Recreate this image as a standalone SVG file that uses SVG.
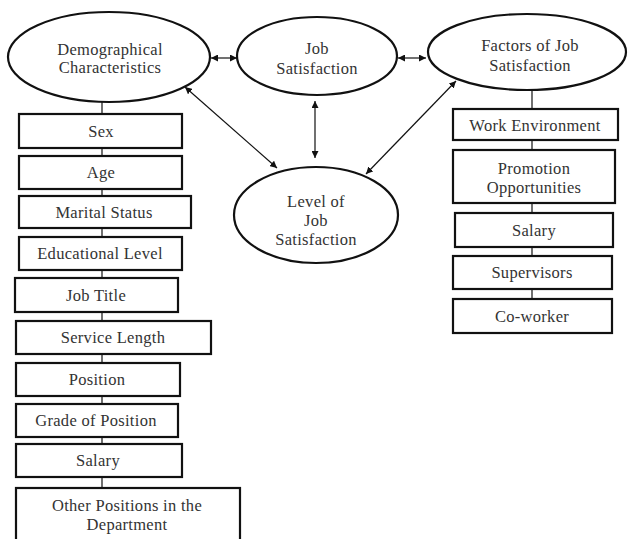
<svg xmlns="http://www.w3.org/2000/svg" width="630" height="539" viewBox="0 0 630 539">
<style>
.e{fill:#fff;stroke:#111;stroke-width:2.2}
.b{fill:#fff;stroke:#111;stroke-width:2.2}
.t{font-family:"Liberation Serif","Times New Roman",serif;font-size:16.5px;fill:#333;text-anchor:middle;dominant-baseline:central;letter-spacing:0.3px}
.c{stroke:#111;stroke-width:1.2;fill:none}
.a{stroke:#111;stroke-width:1.2;fill:none;marker-start:url(#ah);marker-end:url(#ah)}
</style>
<defs>
<marker id="ah" viewBox="0 0 10 10" refX="10" refY="5" markerWidth="7" markerHeight="7" markerUnits="userSpaceOnUse" orient="auto-start-reverse">
<path d="M0,0 L10,5 L0,10 z" fill="#111"/>
</marker>
</defs>
<g id="connectors">
<line class="c" x1="102" y1="100" x2="102" y2="490"/>
<line class="c" x1="532" y1="88" x2="532" y2="300"/>
<line class="a" x1="211" y1="58" x2="237" y2="58"/>
<line class="a" x1="398" y1="58" x2="426" y2="58"/>
<line class="a" x1="315" y1="101" x2="315" y2="158"/>
<line class="a" x1="185" y1="87" x2="277" y2="168"/>
<line class="a" x1="456" y1="81" x2="366" y2="174"/>
</g>
<g id="demographical">
<ellipse class="e" cx="109" cy="57" rx="101" ry="45"/>
<text class="t" x="110" y="49">Demographical</text>
<text class="t" x="110" y="67">Characteristics</text>
</g>
<g id="job-satisfaction">
<ellipse class="e" cx="317" cy="56" rx="80" ry="39"/>
<text class="t" x="317" y="48">Job</text>
<text class="t" x="317" y="68">Satisfaction</text>
</g>
<g id="factors">
<ellipse class="e" cx="527" cy="52" rx="99" ry="38"/>
<text class="t" x="530" y="45">Factors of Job</text>
<text class="t" x="530" y="65">Satisfaction</text>
</g>
<g id="level">
<ellipse class="e" cx="316" cy="215" rx="82" ry="48"/>
<text class="t" x="316" y="201">Level of</text>
<text class="t" x="316" y="220">Job</text>
<text class="t" x="316" y="239">Satisfaction</text>
</g>
<g id="sex"><rect class="b" x="19" y="114" width="163" height="34"/><text class="t" x="101" y="131">Sex</text></g>
<g id="age"><rect class="b" x="19" y="156" width="163" height="33"/><text class="t" x="101" y="172">Age</text></g>
<g id="marital"><rect class="b" x="19" y="196" width="172" height="32"/><text class="t" x="104" y="212">Marital Status</text></g>
<g id="education"><rect class="b" x="19" y="237" width="163" height="33"/><text class="t" x="100" y="253">Educational Level</text></g>
<g id="jobtitle"><rect class="b" x="15" y="278" width="163" height="34"/><text class="t" x="96" y="295">Job Title</text></g>
<g id="service"><rect class="b" x="16" y="321" width="195" height="33"/><text class="t" x="113" y="337">Service Length</text></g>
<g id="position"><rect class="b" x="16" y="363" width="164" height="33"/><text class="t" x="97" y="379">Position</text></g>
<g id="grade"><rect class="b" x="16" y="404" width="162" height="33"/><text class="t" x="96" y="420">Grade of Position</text></g>
<g id="salary-left"><rect class="b" x="16" y="444" width="166" height="33"/><text class="t" x="98" y="460">Salary</text></g>
<g id="other"><rect class="b" x="16" y="488" width="224" height="60"/><text class="t" x="127" y="505">Other Positions in the</text><text class="t" x="127" y="524">Department</text></g>
<g id="work-env"><rect class="b" x="453" y="109" width="165" height="31"/><text class="t" x="535" y="125">Work Environment</text></g>
<g id="promotion"><rect class="b" x="453" y="150" width="162" height="53"/><text class="t" x="534" y="168">Promotion</text><text class="t" x="534" y="187">Opportunities</text></g>
<g id="salary-right"><rect class="b" x="455" y="213" width="158" height="34"/><text class="t" x="534" y="230">Salary</text></g>
<g id="supervisors"><rect class="b" x="453" y="256" width="159" height="33"/><text class="t" x="532" y="272">Supervisors</text></g>
<g id="coworker"><rect class="b" x="453" y="299" width="159" height="34"/><text class="t" x="532" y="316">Co-worker</text></g>
</svg>
